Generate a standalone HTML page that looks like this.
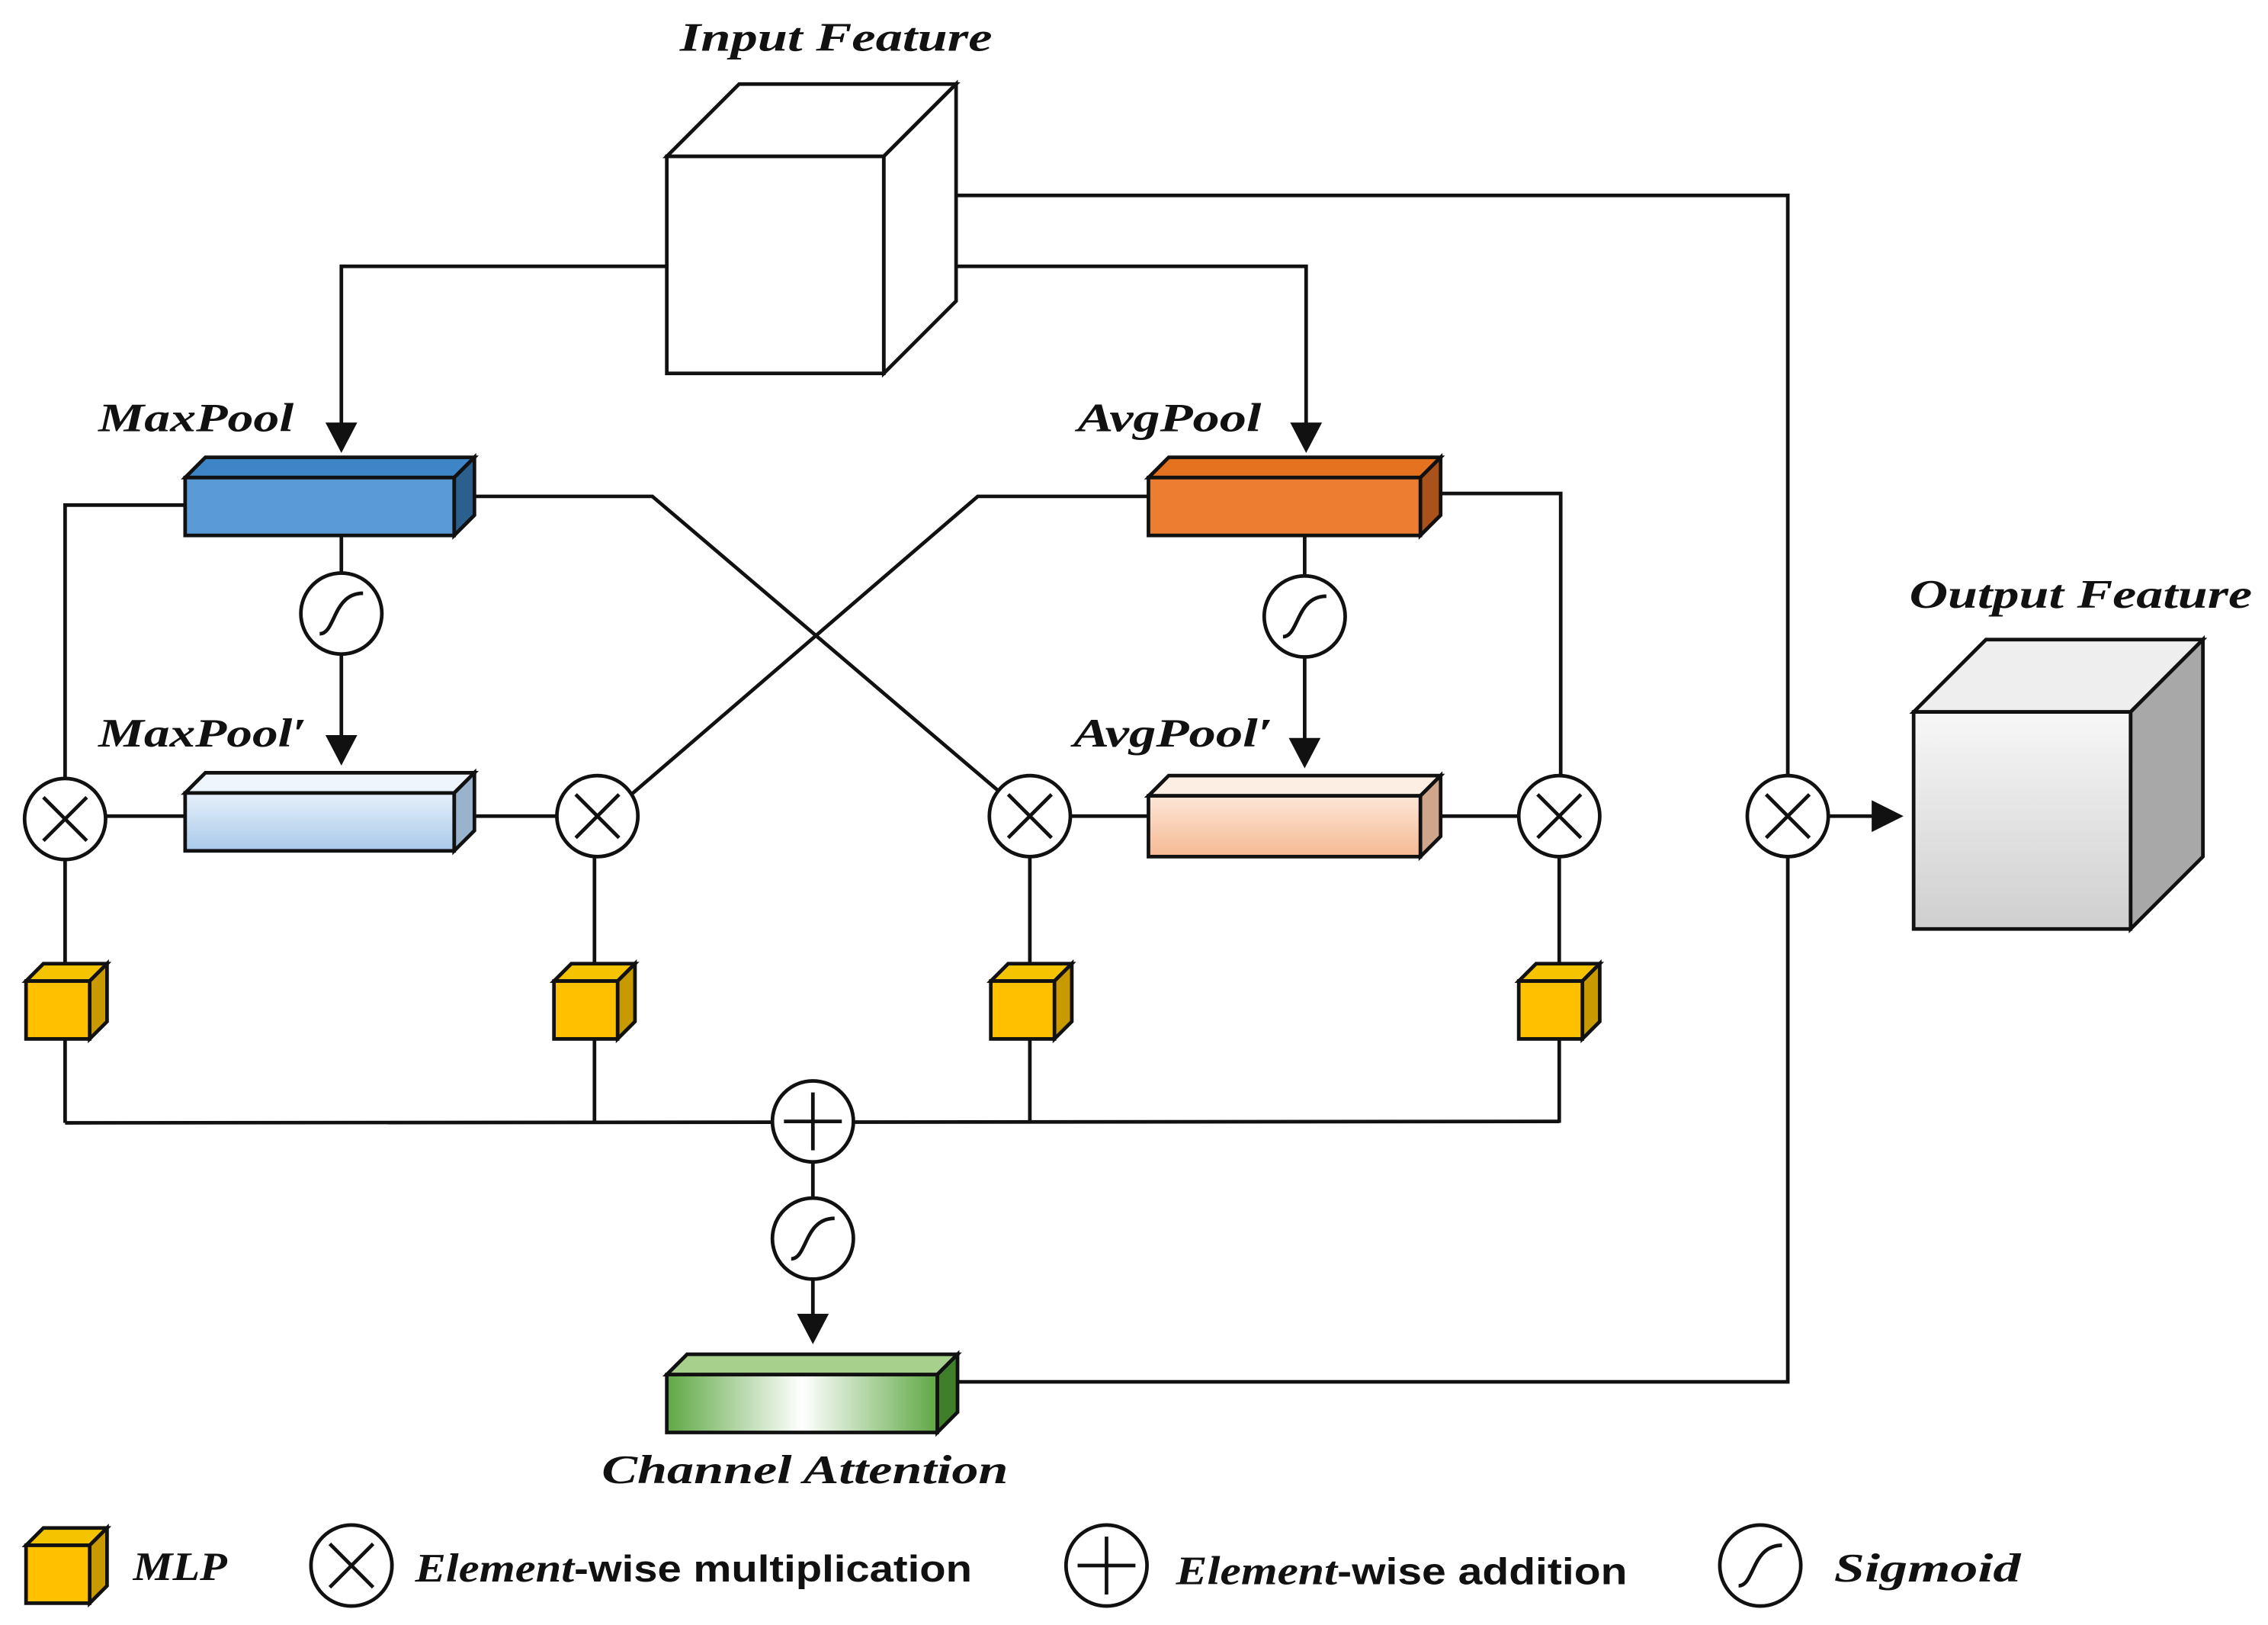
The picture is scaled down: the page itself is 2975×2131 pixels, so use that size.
<!DOCTYPE html>
<html><head><meta charset="utf-8">
<style>
html,body{margin:0;padding:0;background:#fff;}
svg{display:block;}
.lbl{font-family:"Liberation Serif",serif;font-weight:bold;font-style:italic;font-size:28px;fill:#111;}
.sans{font-family:"Liberation Sans",sans-serif;font-weight:bold;font-style:normal;}
</style></head>
<body>
<svg width="2975" height="2131" viewBox="0 0 1568 1123" xmlns="http://www.w3.org/2000/svg">
<defs>
<linearGradient id="lb" x1="0" y1="0" x2="0" y2="1"><stop offset="0" stop-color="#e6f0fa"/><stop offset="1" stop-color="#a9c9ea"/></linearGradient>
<linearGradient id="pe" x1="0" y1="0" x2="0" y2="1"><stop offset="0" stop-color="#fde6d8"/><stop offset="1" stop-color="#f5b992"/></linearGradient>
<linearGradient id="gr" x1="0" y1="0" x2="1" y2="0"><stop offset="0" stop-color="#5fa844"/><stop offset="0.5" stop-color="#ffffff"/><stop offset="1" stop-color="#5fa844"/></linearGradient>
<linearGradient id="og" x1="0" y1="0" x2="0" y2="1"><stop offset="0" stop-color="#f7f7f7"/><stop offset="1" stop-color="#cfcfcf"/></linearGradient>
<g id="mlp">
<polygon points="0,12 12,0 56,0 44,12" fill="#f5c400" stroke="#111" stroke-width="2.5"/>
<polygon points="44,12 56,0 56,40 44,52" fill="#c99a00" stroke="#111" stroke-width="2.5"/>
<rect x="0" y="12" width="44" height="40" fill="#ffc000" stroke="#111" stroke-width="2.5"/>
</g>
<g id="mul"><circle r="28" fill="#fff" stroke="#111" stroke-width="2.5"/><path d="M-15,-15 L15,15 M15,-15 L-15,15" stroke="#111" stroke-width="2.5"/></g>
<g id="add"><circle r="28" fill="#fff" stroke="#111" stroke-width="2.5"/><path d="M-20,0 L20,0 M0,-20 L0,20" stroke="#111" stroke-width="2.5"/></g>
<g id="sig"><circle r="28" fill="#fff" stroke="#111" stroke-width="2.5"/><path d="M-15,14 C-4,14 -6,-14 15,-14" fill="none" stroke="#111" stroke-width="2.5"/></g>
</defs>
<g fill="none" stroke="#111" stroke-width="2.5">
<polyline points="461,184 236,184 236,300"/>
<polyline points="661,184 903,184 903,300"/>
<polyline points="661,135 1236,135 1236,955 661,955"/>
<polyline points="128,349 45,349 45,538"/>
<polyline points="328,343 451,343 692,548"/>
<polyline points="794,343 676,343 433,552"/>
<polyline points="996,341 1079,341 1079,536"/>
<line x1="236" y1="370" x2="236" y2="396"/>
<line x1="236" y1="452" x2="236" y2="520"/>
<line x1="902" y1="370" x2="902" y2="398"/>
<line x1="902" y1="454" x2="902" y2="520"/>
<line x1="73" y1="564" x2="128" y2="564"/>
<line x1="328" y1="564" x2="385" y2="564"/>
<line x1="740" y1="564" x2="794" y2="564"/>
<line x1="996" y1="564" x2="1050" y2="564"/>
<line x1="45" y1="594" x2="45" y2="670"/><line x1="45" y1="718" x2="45" y2="776"/>
<line x1="411" y1="592" x2="411" y2="670"/><line x1="411" y1="718" x2="411" y2="776"/>
<line x1="712" y1="592" x2="712" y2="670"/><line x1="712" y1="718" x2="712" y2="776"/>
<line x1="1078" y1="592" x2="1078" y2="670"/><line x1="1078" y1="718" x2="1078" y2="776"/>
<line x1="45" y1="776" x2="1078" y2="775"/>
<line x1="562" y1="803" x2="562" y2="828"/>
<line x1="562" y1="884" x2="562" y2="915"/>
<line x1="1264" y1="564" x2="1300" y2="564"/>
</g>
<g fill="#111">
<polygon points="225,292 247,292 236,313"/>
<polygon points="892,292 914,292 903,313"/>
<polygon points="225,508 247,508 236,529"/>
<polygon points="891,510 913,510 902,531"/>
<polygon points="551,908 573,908 562,929"/>
<polygon points="1294,553 1294,575 1316,564"/>
</g>
<g stroke="#111" stroke-width="2.5">
<polygon points="461,108 511,58 661,58 611,108" fill="#fff"/>
<polygon points="611,108 661,58 661,208 611,258" fill="#fff"/>
<rect x="461" y="108" width="150" height="150" fill="#fff"/>
<polygon points="1323,492 1373,442 1523,442 1473,492" fill="#eeeeee"/>
<polygon points="1473,492 1523,442 1523,592 1473,642" fill="#a8a8a8"/>
<rect x="1323" y="492" width="150" height="150" fill="url(#og)"/>
<polygon points="128,330 142,316 328,316 314,330" fill="#3d85c6"/>
<polygon points="314,330 328,316 328,356 314,370" fill="#2a5f8e"/>
<rect x="128" y="330" width="186" height="40" fill="#5b9bd5"/>
<polygon points="794,330 808,316 996,316 982,330" fill="#e4721f"/>
<polygon points="982,330 996,316 996,356 982,370" fill="#a9521a"/>
<rect x="794" y="330" width="188" height="40" fill="#ed7d31"/>
<polygon points="128,548 142,534 328,534 314,548" fill="#eef5fc"/>
<polygon points="314,548 328,534 328,574 314,588" fill="#9ab3cc"/>
<rect x="128" y="548" width="186" height="40" fill="url(#lb)"/>
<polygon points="794,550 808,536 996,536 982,550" fill="#fdeee4"/>
<polygon points="982,550 996,536 996,578 982,592" fill="#cfa68c"/>
<rect x="794" y="550" width="188" height="42" fill="url(#pe)"/>
<polygon points="461,950 475,936 662,936 648,950" fill="#a8d08d"/>
<polygon points="648,950 662,936 662,976 648,990" fill="#3f7f2a"/>
<rect x="461" y="950" width="187" height="40" fill="url(#gr)"/>
</g>
<use href="#sig" x="236" y="424"/>
<use href="#sig" x="902" y="426"/>
<use href="#mul" x="45" y="566"/>
<use href="#mul" x="413" y="564"/>
<use href="#mul" x="712" y="564"/>
<use href="#mul" x="1078" y="564"/>
<use href="#mul" x="1236" y="564"/>
<use href="#add" x="562" y="775"/>
<use href="#sig" x="562" y="856"/>
<use href="#mlp" x="18" y="666"/>
<use href="#mlp" x="383" y="666"/>
<use href="#mlp" x="685" y="666"/>
<use href="#mlp" x="1050" y="666"/>
<text class="lbl" x="470" y="35" textLength="216" lengthAdjust="spacingAndGlyphs">Input Feature</text>
<text class="lbl" x="68" y="298" textLength="135" lengthAdjust="spacingAndGlyphs">MaxPool</text>
<text class="lbl" x="745" y="298" textLength="127" lengthAdjust="spacingAndGlyphs">AvgPool</text>
<text class="lbl" x="68" y="516" textLength="144" lengthAdjust="spacingAndGlyphs">MaxPool′</text>
<text class="lbl" x="742" y="516" textLength="138" lengthAdjust="spacingAndGlyphs">AvgPool′</text>
<text class="lbl" x="1320" y="420" textLength="237" lengthAdjust="spacingAndGlyphs">Output Feature</text>
<text class="lbl" x="416" y="1025" textLength="281" lengthAdjust="spacingAndGlyphs">Channel Attention</text>
<use href="#mlp" x="18" y="1056"/>
<text class="lbl" x="92" y="1092" textLength="65" lengthAdjust="spacingAndGlyphs">MLP</text>
<use href="#mul" x="243" y="1082"/>
<text class="lbl" x="287" y="1093" textLength="385" lengthAdjust="spacingAndGlyphs">Element<tspan class="sans" font-size="26">-wise multiplication</tspan></text>
<use href="#add" x="765" y="1082"/>
<text class="lbl" x="813" y="1095" textLength="312" lengthAdjust="spacingAndGlyphs">Element<tspan class="sans" font-size="26">-wise addition</tspan></text>
<use href="#sig" x="1217" y="1082"/>
<text class="lbl" x="1268" y="1093" textLength="129" lengthAdjust="spacingAndGlyphs">Sigmoid</text>
</svg>
</body></html>
